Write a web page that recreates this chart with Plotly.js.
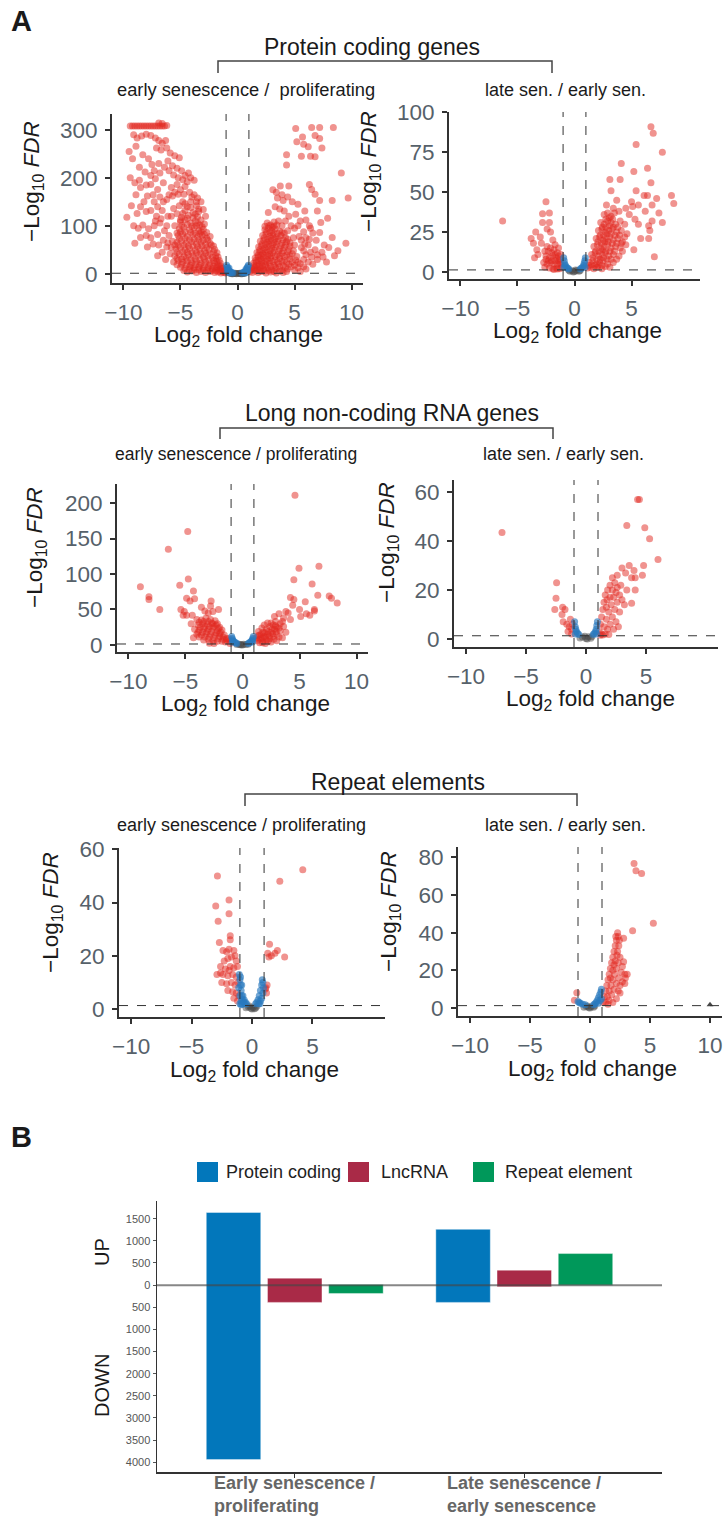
<!DOCTYPE html>
<html><head><meta charset="utf-8">
<script src="https://cdn.plot.ly/plotly-3.0.1.min.js"></script>
<style>html,body{margin:0;padding:0;background:#fff}#chart{width:725px;height:1517px}</style>
</head><body><div id="chart"></div>
<script>
// ---------------- DATA ----------------
const FC_CUT = 1;        // |log2 fold change| threshold
const FDR_CUT = 1.3;     // -log10(0.05)

// Panel 1: protein coding, early senescence / proliferating
const pcEarlyRed = [
 [-9.4,308],[-9.2,308],[-9.0,308],[-8.8,308],[-8.6,308],[-8.4,308],[-8.2,308],[-8.0,308],[-7.8,308],[-7.6,308],[-7.4,308],[-7.2,308],[-7.0,308],[-6.8,308],[-6.6,308],[-6.4,308],[-6.9,314],[-6.6,313],[-6.2,309],
 [-9.1,290],[-8.8,283],[-8.4,287],[-8.0,291],[-7.6,288],[-7.2,283],[-6.9,278],[-6.6,272],[-6.3,278],[-7.1,262],[-6.7,258],[-6.2,262],[-5.9,252],[-5.5,246],[-5.1,242],[-8.9,266],[-8.3,248],[-7.8,240],[-7.5,228],[-8.6,222],[-8.1,212],[-7.6,205],[-7.2,198],[-6.8,210],[-6.4,222],[-6.0,215],[-5.6,206],[-5.2,200],[-4.8,196],[-4.4,192],[-4.1,200],[-3.8,195],[-4.6,182],[-5.3,186],[-5.8,180],[-6.5,190],[-7.0,176],[-7.6,186],[-8.5,180],[-8.9,165],[-9.3,142],[-9.7,118],[-8.8,126],[-8.2,150],[-7.9,162],[-7.3,150],[-6.8,160],[-6.2,155],[-5.7,162],[-5.2,166],[-4.7,166],[-4.2,170],[-3.8,165],[-3.5,158],[-3.2,150],[-7.6,132],[-7.1,120],[-6.6,132],[-6.1,120],[-5.6,136],[-5.1,142],[-4.6,146],[-4.1,150],[-3.6,142],[-3.0,134],[-2.8,120],[-8.3,102],[-7.8,94],[-7.3,100],[-6.8,106],[-9.0,64],[-8.5,76],[-7.9,56],[-7.4,62],[-7.0,82],[-6.4,90],[-6.0,80],[-5.5,100],[-5.0,112],[-6.6,45],[-6.2,56],[-5.7,68],[-5.3,85],[-7.0,38],[-6.3,30],[-5.9,42],
 [-9.5,255],[-9.2,240],[-9.4,200],[-9.0,190],[-8.6,195],[-8.0,185],[-7.3,215],[-6.9,230],[-6.1,235],[-5.7,225],[-5.3,220],[-4.9,215],[-4.6,205],[-4.3,210],[-5.0,175],[-5.5,170],[-6.0,165],[-6.5,150],[-7.0,140],[-7.4,165],[-8.0,130],[-8.5,140],[-9.1,100],[-8.7,95],[-8.0,80],[-7.6,75],[-7.2,110],[-6.7,115],[-6.2,100],[-5.8,120],[-5.3,125],[-4.8,150],[-4.4,140],[-4.0,160],[-3.6,150],[-3.4,135],[-6.9,60],[-6.5,70],[-6.1,65],[-5.8,55],[-5.5,60],
 [-4.8,126],[-4.3,122],[-3.9,128],[-3.5,119],[-3.2,112],[-5.0,108],[-4.6,112],[-4.1,106],[-3.7,110],[-3.3,102],[-2.9,104],[-5.1,94],[-4.7,97],[-4.2,92],[-3.8,96],[-3.4,90],[-3.0,93],[-2.7,86],[-5.2,80],[-4.8,83],[-4.4,78],[-3.9,82],[-3.5,77],[-3.1,80],[-2.7,74],[-2.4,78],[-5.3,66],[-4.9,69],[-4.5,64],[-4.0,67],[-3.6,63],[-3.2,66],[-2.8,61],[-2.4,64],[-2.1,58],[-5.4,52],[-5.0,55],[-4.6,50],[-4.2,53],[-3.7,49],[-3.3,52],[-2.9,48],[-2.5,51],[-2.1,46],[-1.8,44],[-5.5,38],[-5.1,41],[-4.7,36],[-4.3,40],[-3.9,37],[-3.4,39],[-3.0,35],[-2.6,38],[-2.2,34],[-1.9,32],[-1.6,28],[-5.6,25],[-5.2,28],[-4.8,24],[-4.4,27],[-4.0,23],[-3.6,26],[-3.2,22],[-2.8,25],[-2.4,21],[-2.0,22],[-1.7,19],[-1.45,16],[-5.0,14],[-4.6,11],[-4.2,15],[-3.8,12],[-3.4,14],[-3.0,11],[-2.6,13],[-2.2,10],[-1.9,12],[-1.6,9],[-1.35,10],[-1.15,7],[-4.4,4],[-4.0,6],[-3.6,3],[-3.2,5],[-2.8,3],[-2.4,5],[-2.0,3],[-1.7,4],[-1.45,2],[-1.2,3],[-1.05,2],
 [-4.6,132],[-4.1,138],[-3.7,124],[-3.4,130],[-4.9,118],[-4.4,116],[-3.9,117],[-3.5,106],[-3.1,98],[-4.9,101],[-4.4,103],[-4.0,99],[-3.6,100],[-3.2,88],[-2.9,82],[-5.0,87],[-4.6,88],[-4.1,86],[-3.7,85],[-3.3,84],[-2.6,70],[-5.1,73],[-4.6,74],[-4.2,71],[-3.8,72],[-3.4,71],[-3.0,70],[-2.3,60],[-5.2,59],[-4.7,60],[-4.3,58],[-3.9,58],[-3.5,57],[-3.1,58],[-2.7,55],[-2.0,51],[-5.3,45],[-4.8,46],[-4.4,45],[-4.0,44],[-3.6,44],[-3.2,43],[-2.8,43],[-2.4,42],[-1.9,38],[-1.7,35],[-5.3,32],[-4.9,31],[-4.5,33],[-4.1,30],[-3.7,31],[-3.3,30],[-2.9,31],[-2.5,29],[-2.1,28],[-1.8,26],[-1.5,22],[-5.3,19],[-4.9,20],[-4.5,19],[-4.1,18],[-3.7,19],[-3.3,18],[-2.9,18],[-2.5,17],[-2.1,16],[-1.8,15],[-1.5,13],[-1.25,12],[-4.7,7],[-4.2,9],[-3.8,8],[-3.4,9],[-3.0,7],[-2.6,8],[-2.2,7],[-1.9,7],[-1.6,6],[-1.35,5],[-1.1,4.5],
 [5.1,303],[6.5,305],[7.2,305],[8.4,305],[6.8,288],[5.7,285],[5.2,275],[5.8,270],[6.2,265],[7.2,282],[7.4,262],[6.4,245],[6.8,244],[5.6,245],[4.3,248],[4.3,227],[9.1,210],[3.75,183],[4.5,183],[6.3,186],[6.5,176],[6.8,166],[7.2,153],[8.3,153],[9.7,158],[3.5,158],[4.0,153],[4.8,150],[5.3,145],[4.1,131],[5.1,124],[5.9,131],[7.0,131],[7.9,116],[7.3,107],[6.3,100],[5.8,88],[7.2,86],[8.3,76],[9.5,64],[5.8,48],[4.6,65],[4.1,85],[3.2,99],[2.4,99],[2.7,128],[3.1,175],[3.4,170],[3.9,165],[4.4,160],[3.3,140],[3.7,135],[4.5,120],[5.5,110],[6.0,112],[6.6,85],[6.9,70],[7.6,60],[8.0,55],[8.8,48],[6.2,60],[6.8,50],[7.4,45],[5.0,95],[5.4,78],[4.7,100],[3.6,110],[4.2,110],
 [5.6,70],[6.0,75],[6.4,95],[5.3,100],[5.0,60],[5.6,55],[6.0,40],[6.5,35],[7.0,30],[5.8,30],[4.9,75],[4.4,90],[3.9,100],[5.8,15],[6.2,25],[6.6,20],[7.0,40],[7.5,35],[6.0,10],[5.5,5],[6.4,45],[7.8,25],[8.5,38],[5.9,62],[6.3,72],
 [2.6,106],[2.9,102],[3.2,108],[2.4,92],[2.7,95],[3.0,90],[3.3,94],[3.7,89],[2.2,80],[2.5,83],[2.8,78],[3.1,81],[3.4,77],[3.8,80],[4.2,76],[2.0,68],[2.3,70],[2.6,66],[2.9,69],[3.2,65],[3.5,68],[3.9,64],[4.3,67],[1.85,56],[2.1,58],[2.4,54],[2.7,57],[3.0,53],[3.3,56],[3.7,52],[4.1,55],[4.5,51],[1.7,44],[1.95,46],[2.2,42],[2.5,45],[2.8,41],[3.1,44],[3.5,40],[3.9,43],[4.3,39],[4.8,42],[1.55,33],[1.8,35],[2.05,31],[2.3,34],[2.6,30],[2.9,33],[3.3,29],[3.7,32],[4.1,28],[4.6,31],[5.1,29],[1.4,22],[1.65,24],[1.9,20],[2.15,23],[2.45,19],[2.8,22],[3.2,18],[3.6,21],[4.0,17],[4.5,20],[5.0,18],[5.5,21],[1.25,12],[1.5,14],[1.75,10],[2.0,13],[2.3,9],[2.65,12],[3.0,8],[3.4,11],[3.9,7],[4.4,10],[5.0,8],[1.1,5],[1.3,3],[1.55,6],[1.8,3],[2.1,5],[2.5,2],[2.9,4],[3.4,2],[4.0,3],
 [2.75,100],[3.05,97],[3.45,102],[2.55,88],[2.85,86],[3.15,85],[3.5,84],[3.9,86],[2.35,75],[2.65,72],[2.95,74],[3.25,72],[3.6,73],[4.0,71],[4.4,72],[2.15,62],[2.45,61],[2.75,62],[3.05,60],[3.4,61],[3.8,59],[4.2,60],[4.6,58],[1.95,50],[2.25,49],[2.55,50],[2.85,48],[3.2,49],[3.6,47],[4.0,48],[4.4,46],[4.9,48],[1.8,39],[2.05,38],[2.35,39],[2.65,37],[2.95,38],[3.3,36],[3.7,37],[4.1,36],[4.6,37],[5.2,36],[1.6,28],[1.85,28],[2.15,27],[2.45,26],[2.75,27],[3.1,26],[3.5,25],[3.9,26],[4.3,24],[4.8,25],[5.3,24],[1.4,17],[1.65,17],[1.9,16],[2.2,17],[2.5,15],[2.9,16],[3.3,14],[3.7,15],[4.2,14],[4.7,15],[5.3,13],[1.2,8],[1.45,9],[1.7,7],[2.0,8],[2.35,6],[2.75,7],[3.2,5],[3.7,6],[4.3,5]
];
const pcEarlyBlue = [[-0.95,18],[-0.9,14],[-0.85,11],[-0.8,8],[-0.75,12],[-0.7,6],[-0.6,4],[-0.5,3],[-0.4,2],[-0.9,6],[-0.8,3],[-0.65,2],[0.4,2],[0.5,3],[0.6,4],[0.7,6],[0.75,10],[0.8,8],[0.85,12],[0.9,15],[0.95,18],[0.9,6],[0.8,3],[0.65,2]];
const pcEarlyGrey = [[-0.5,0.5],[-0.3,0.8],[-0.1,0.3],[0.1,0.6],[0.3,0.4],[0.5,1.0],[-0.2,1.1],[0.2,1.2],[0,0.9],[-0.4,0.2],[0.4,0.1],[-0.6,0.9],[0.6,0.7]];

// Panel 2: protein coding, late sen. / early sen.
const pcLateRed = [
 [-6.3,32],[-2.5,44],[-2.8,36.5],[-2.2,37],[-2.8,31],[-2.2,31],[-3.4,25],[-3.8,21],[-2.9,18],[-2.1,25],[-3.3,14],[-3.2,11],[-2.6,13],[-3.6,18],[-3.0,22],[-2.4,27],[-1.9,20],[-3.5,9],
 [-2.4,16],[-2.1,15],[-1.8,14],[-1.5,12],[-2.5,10],[-2.2,9],[-1.9,10],[-1.6,9],[-1.3,8],[-2.7,6],[-2.4,5],[-2.1,6],[-1.8,5],[-1.5,5],[-1.2,5],[-2.2,2.5],[-1.9,2],[-1.6,2.5],[-1.3,2],[-1.1,3],[-2.0,12],[-1.7,17],[-1.4,15],[-1.2,11],[-2.6,3],
 [-2.3,13],[-2.0,7],[-1.7,7],[-1.4,7],[-2.3,7],[-1.7,11],[-1.4,10],[-2.5,8],[-1.25,6],[-1.5,1.8],[-1.8,1.5],
 [6.7,91],[6.9,87],[5.4,80],[7.7,75],[4.1,68],[6.4,65],[5.2,63],[3.1,58],[4.0,58],[6.7,56],[5.4,51],[3.2,51],[8.5,48],[6.1,48],[6.4,48],[7.2,46],[8.7,43],[3.7,45],[5.0,44],[5.1,41],[6.8,42],[5.6,42],[6.2,38],[7.4,37],[6.8,32],[7.7,31],[5.6,30],[6.5,29],[6.6,26],[5.8,21],[6.5,21],[5.2,14],[7.0,9.5],[4.5,40],[4.8,36],[3.9,38],[2.8,42],[3.4,40],[5.3,33],[4.4,30],
 [2.6,36],[2.9,37],[3.2,35],[3.5,37],[2.3,31],[2.6,30],[2.9,32],[3.2,31],[3.6,30],[4.0,32],[2.1,26],[2.4,27],[2.7,25],[3.0,26],[3.3,27],[3.7,25],[4.1,26],[4.6,24],[1.9,21],[2.2,22],[2.5,20],[2.8,21],[3.1,22],[3.4,20],[3.8,21],[4.2,19],[1.7,16],[2.0,17],[2.3,15],[2.6,16],[2.9,17],[3.2,15],[3.6,16],[4.0,15],[4.5,17],[1.5,11],[1.8,12],[2.1,10],[2.4,11],[2.7,12],[3.0,10],[3.4,11],[3.9,10],[1.3,6],[1.6,7],[1.9,5],[2.2,6],[2.5,7],[2.9,5],[3.4,6],[1.15,2.5],[1.4,3],[1.7,2],[2.0,3],[2.4,2],
 [2.75,33],[3.05,34],[3.35,33],[2.45,28],[2.75,28],[3.05,29],[3.4,28],[3.8,28],[2.25,23],[2.55,23],[2.85,24],[3.2,24],[3.55,23],[3.95,23],[4.4,22],[2.05,19],[2.35,18],[2.65,19],[2.95,19],[3.3,18],[3.7,18],[4.1,18],[1.85,13],[2.15,13],[2.45,14],[2.75,13],[3.1,13],[3.5,13],[4.2,13],[1.6,9],[1.95,8],[2.25,8],[2.55,9],[2.85,8],[3.2,8],[3.7,8],[1.25,4],[1.5,4.5],[1.8,4],[2.1,4],[2.4,4],[2.7,3.5],[3.1,3]
];
const pcLateBlue = [[-0.95,9],[-0.9,7],[-0.85,5],[-0.8,4],[-0.7,3],[-0.6,2.3],[-0.5,1.8],[-0.92,3],[0.5,1.8],[0.6,2.3],[0.7,3],[0.8,4],[0.85,5.5],[0.9,7],[0.95,9],[0.92,3]];
const pcLateGrey = [[-0.4,0.5],[-0.2,0.8],[0,0.3],[0.2,0.9],[0.4,0.4],[-0.5,1.1],[0.5,1.0],[0.1,1.2],[-0.1,0]];

// Panel 3: lncRNA, early senescence / proliferating
const lncEarlyRed = [
 [-8.95,82],[-8.2,68],[-8.2,64],[-7.25,50],[-6.5,135],[-4.8,160],[-4.75,93],[-5.5,84],[-4.3,76],[-4.9,66],[-4.6,62],[-4.2,65],[-5.4,50],[-5.1,47],[-4.9,42],[-5.2,42],[-4.4,42],[-2.75,62],[-3.6,53],[-2.8,55],[-2.1,50],[-3.3,48],[-3.0,45],[-2.6,47],
 [-4.0,36],[-3.6,35],[-3.2,38],[-2.8,36],[-2.4,34],[-3.9,28],[-3.5,30],[-3.1,29],[-2.7,31],[-2.3,28],[-2.0,25],[-4.2,22],[-3.8,21],[-3.4,23],[-3.0,22],[-2.6,24],[-2.2,20],[-1.9,18],[-4.0,15],[-3.6,14],[-3.2,16],[-2.8,15],[-2.4,14],[-2.0,12],[-1.7,11],[-1.4,9],[-3.4,7],[-3.0,8],[-2.6,6],[-2.2,5],[-1.8,5],[-1.5,4],[-1.2,5],[-1.1,2],[-4.5,30],[-4.3,10],[-2.9,2.5],[-2.5,2],
 [-3.8,32],[-3.4,33],[-3.0,33],[-2.6,30],[-2.2,30],[-3.7,25],[-3.3,26],[-2.9,26],[-2.5,26],[-2.1,23],[-1.8,21],[-3.9,18],[-3.5,18],[-3.1,19],[-2.7,19],[-2.3,17],[-2.0,16],[-1.6,14],[-3.8,11],[-3.3,11],[-2.9,11],[-2.5,10],[-2.1,9],[-1.7,8],[-1.4,7],[-1.2,9],
 [4.6,211],[4.95,108],[6.7,111],[4.5,92],[6.1,86],[4.2,67],[4.5,64],[5.5,61],[6.6,70],[7.6,69],[7.8,66],[8.3,59],[6.3,50],[5.0,50],[6.3,48],[5.6,44],[5.1,40],[3.8,47],[4.0,45],[3.2,44],[2.8,40],[4.4,56],[5.9,42],[3.6,38],[4.2,36],
 [1.3,6],[1.6,9],[1.9,12],[2.2,15],[2.5,18],[2.8,22],[1.5,3],[1.8,5],[2.1,7],[2.4,9],[2.7,12],[3.0,15],[3.3,20],[1.2,10],[1.5,14],[1.8,18],[2.1,22],[2.4,26],[2.7,28],[3.0,25],[3.3,30],[3.6,26],[2.0,2],[2.5,4],[3.0,6],[3.5,10],[3.8,18],[2.2,31],[1.7,24],[1.4,19],[2.9,33],[3.5,33],
 [1.45,8],[1.75,10],[2.05,11],[2.35,13],[2.65,16],[2.95,19],[1.35,13],[1.65,15],[1.95,17],[2.25,19],[2.6,22],[2.9,27],[3.2,24],[1.75,3],[2.25,5],[2.75,8],[3.2,11],[1.9,28],[2.5,31]
];
const lncEarlyBlue = [[-0.95,12],[-0.9,9],[-0.85,7],[-0.8,5],[-0.7,4],[-0.6,3],[-0.5,2],[-0.9,4],[0.5,2],[0.6,3],[0.7,4],[0.8,5.5],[0.85,7],[0.9,9],[0.95,12],[0.9,4]];
const lncEarlyGrey = [[-0.5,0.5],[-0.3,1.0],[-0.1,0.3],[0.1,0.8],[0.3,0.5],[0.5,1.1],[0,0],[-0.2,0.1]];

// Panel 4: lncRNA, late sen. / early sen.
const lncLateRed = [
 [-7.0,43.5],[-2.45,23],[-2.5,16.6],[-1.95,13],[-2.6,12],[-1.75,12],[-2.0,10],[-1.3,8],[-1.6,6],[-1.4,5],[-1.2,4],[-1.5,3],[-1.2,2],[-1.9,7],[-1.1,6],
 [4.3,57],[4.45,57],[3.4,46.4],[4.9,45.5],[5.3,41],[6.0,32.5],[3.0,29],[3.6,30],[4.8,30],[4.0,28],[2.2,25],[2.6,26],[3.3,27],[3.8,25],[4.1,25],[4.7,26],[4.1,20],[3.2,14],[3.8,14.6],[2.5,7],[3.4,20],[2.9,22],
 [1.1,3],[1.2,6],[1.3,9],[1.4,12],[1.5,15],[1.6,18],[1.3,2],[1.5,5],[1.7,8],[1.9,11],[2.1,14],[2.3,17],[1.6,2],[1.8,4],[2.0,6],[2.2,9],[2.4,12],[2.6,15],[2.8,18],[1.8,20],[2.0,22],[2.2,20],[2.4,23],[2.6,21],[2.0,17],[1.7,13],[2.8,11],[3.0,16],[2.3,4],[2.7,5],[1.9,1.8],[1.4,1.6],[1.2,1.5],[2.5,19],[1.75,16]
];
const lncLateBlue = [[-0.95,7],[-0.9,5],[-0.85,4],[-0.8,3],[-0.7,2.3],[-0.6,1.8],[-0.9,2],[0.6,1.8],[0.7,2.3],[0.8,3],[0.85,4],[0.9,5.5],[0.95,7],[0.9,2]];
const lncLateGrey = [[-0.5,0.4],[-0.3,0.8],[0,0.2],[0.2,0.9],[0.4,0.3],[0.5,1.0],[-0.1,1.1],[0.1,0]];

// Panel 5: repeat elements, early senescence / proliferating
const repEarlyRed = [
 [-2.86,50],[-1.9,41],[-3.0,38.7],[-1.9,35.8],[-2.8,33],[-1.8,27.5],[-1.8,26],[-2.7,25],[-2.4,22],[-2.1,21.5],[-1.9,22.5],[-1.5,22],[-1.4,20],[-2.3,18],[-2.0,19],[-1.7,19.5],[-1.3,18],[-2.6,16],[-2.2,15],[-1.8,16],[-1.5,15.5],[-1.2,16],[-2.4,13],[-2.0,12.5],[-1.6,13],[-1.3,12],[-2.5,10],[-2.1,9.5],[-1.7,10],[-1.4,9],[-1.15,10],[-2.0,7],[-1.6,6.5],[-1.3,6],[-1.1,5],[-1.5,4],[-1.2,3],[-2.6,13.5],[-2.9,13],[-1.9,14.5],
 [4.2,52.3],[2.3,48],[1.45,24.3],[1.3,21],[1.9,21],[1.6,20],[2.7,19.5],[1.4,19.5],[2.1,22],[1.15,8],[1.25,9],[1.2,6],[1.1,7.5]
];
const repEarlyBlue = [[-1.05,13],[-1.0,11],[-0.95,9],[-0.9,7],[-0.85,5],[-0.8,3.5],[-0.7,2.5],[-0.6,2],[-1.0,5],[-0.9,3],[-1.1,8],[-0.95,12],[-0.85,9],[-0.75,5],[-0.65,3.5],[-0.55,2.5],[-0.45,2],[-1.0,2],[-0.9,1.6],[-0.8,1.8],[0.3,2],[0.4,2.5],[0.5,3.5],[0.6,5],[0.7,7],[0.8,9],[0.85,11],[0.9,10],[0.55,2],[0.7,3],[0.8,4],[0.9,6],[0.95,8],[0.65,2]];
const repEarlyGrey = [[-0.5,0.5],[-0.3,0.8],[-0.1,0.3],[0.1,0.7],[0.3,0.4],[0.4,1.0],[-0.2,1.1],[0,0],[0.2,0.1]];

// Panel 6: repeat elements, late sen. / early sen.
const repLateRed = [
 [3.67,76.7],[3.83,72.8],[4.3,71.4],[5.28,45],[3.55,41],[2.3,40],[2.35,38],[2.8,37],[2.9,18],[3.1,18],[2.95,16],[2.8,24.5],[-1.1,8.1],[-1.3,4.2],
 [1.1,3],[1.2,6],[1.3,9],[1.4,12],[1.5,15],[1.6,18],[1.7,21],[1.8,24],[1.9,27],[2.0,30],[2.1,33],[2.2,36],[1.3,3],[1.45,6],[1.6,9],[1.75,12],[1.9,15],[2.05,18],[2.2,21],[2.35,24],[2.5,27],[1.6,4],[1.8,7],[2.0,10],[2.2,13],[2.4,16],[2.6,19],[2.7,22],[2.1,25],[2.3,30],[2.4,33],[1.9,20],[2.0,23],[2.5,12],[2.7,14],[2.9,13],[1.5,2],[1.9,3],[2.2,5],[2.5,8],[2.35,9],[1.7,16],[2.25,28],[2.45,36],[2.15,38]
];
const repLateBlue = [[0.3,1.8],[0.4,2.2],[0.5,3],[0.6,4],[0.7,5.5],[0.8,7],[0.9,8.5],[0.95,10],[0.7,2.5],[0.85,4],[0.95,5],[-0.9,3],[-0.8,2.5],[-0.6,2],[-0.4,1.7],[-1.0,3.5]];
const repLateGrey = [[-0.5,0.4],[-0.3,0.8],[-0.1,0.2],[0.1,0.7],[0.3,0.4],[0.4,1.1],[-0.2,1.1],[0,0]];
const repLateMark = [[10,1.8]];

// Panel B: number of differentially expressed features
const groups = ["Early senescence / proliferating", "Late senescence / early senescence"];
const groupLabels = ["Early senescence /<br>proliferating", "Late senescence /<br>early senescence"];
const seriesNames = ["Protein coding", "LncRNA", "Repeat element"];
const upCounts   = [[1640, 1260], [158, 338], [15, 713]];
const downCounts = [[3940, 390], [390, 38], [188, 0]];
const barTicks = [1500, 1000, 500, 0, -500, -1000, -1500, -2000, -2500, -3000, -3500, -4000];

// ---------------- LAYOUT HELPERS ----------------
const W = 725, H = 1517;
const px = x => x / W;
const py = y => 1 - y / H;
const FONT = "Liberation Sans, Arial, Helvetica, sans-serif";
const RED = "#E2271F", BLUE = "#2A7ABE", GREY = "#4a4a4a";
const TICKC = "#56616a", AX = "#333333";
const TICKSIZE = 22.5, TITLESIZE = 22.5;
function ann(x, y, text, font, extra) {
  return Object.assign({xref: "paper", yref: "paper", x: px(x), y: py(y), xanchor: "center", yanchor: "middle",
    showarrow: false, text: text, font: font}, extra || {});
}

const panels = [
  {red: pcEarlyRed, blue: pcEarlyBlue, grey: pcEarlyGrey, yr: [-19, 333], yt: [0,100,200,300], xt: [-10,-5,0,5,10], box: [112,363,114,283], yt_pos: [33,182], xt_pos: [238,336]},
  {red: pcLateRed, blue: pcLateBlue, grey: pcLateGrey, yr: [-4.4, 100.3], yt: [0,25,50,75,100], xt: [-10,-5,0,5], box: [449,700,112,279], yt_pos: [370,172], xt_pos: [577,332]},
  {red: lncEarlyRed, blue: lncEarlyBlue, grey: lncEarlyGrey, yr: [-10, 227], yt: [0,50,100,150,200], xt: [-10,-5,0,5,10], box: [117,368,484,652], yt_pos: [36,548], xt_pos: [245,705]},
  {red: lncLateRed, blue: lncLateBlue, grey: lncLateGrey, yr: [-3.3, 65], yt: [0,20,40,60], xt: [-10,-5,0,5], box: [454,718,480,647], yt_pos: [388,543], xt_pos: [590,700]},
  {red: repEarlyRed, blue: repEarlyBlue, grey: repEarlyGrey, yr: [-3, 60.5], yt: [0,20,40,60], xt: [-10,-5,0,5], box: [119,385,848,1017], yt_pos: [52,913], xt_pos: [254,1071]},
  {red: repLateRed, blue: repLateBlue, grey: repLateGrey, extra: repLateMark, yr: [-4.2, 85.4], yt: [0,20,40,60,80], xt: [-10,-5,0,5,10], box: [458,722,847,1016], yt_pos: [390,912], xt_pos: [592,1070]}
];

const data = [];
const layout = {
  width: W, height: H, margin: {l:0, r:0, t:0, b:0},
  paper_bgcolor: "#fff", plot_bgcolor: "#fff", showlegend: false,
  font: {family: FONT, color: "#1a1a1a"},
  shapes: [], annotations: [],
  barmode: "group", bargap: 0.2, bargroupgap: 0.11
};

panels.forEach((p, i) => {
  const n = i + 1, xa = "x" + n, ya = "y" + n;
  const xk = n === 1 ? "xaxis" : "xaxis" + n, yk = n === 1 ? "yaxis" : "yaxis" + n;
  const mk = (arr, color, op, size, sym) => ({
    type: "scatter", mode: "markers", x: arr.map(d => d[0]), y: arr.map(d => d[1]),
    xaxis: xa, yaxis: ya, hoverinfo: "skip", cliponaxis: true,
    marker: {color: color, opacity: op, size: size || 7, symbol: sym || "circle", line: {width: 0}}
  });
  data.push(mk(p.grey, GREY, 0.5));
  data.push(mk(p.red, RED, 0.5));
  data.push(mk(p.blue, BLUE, 0.65));
  if (p.extra) data.push(mk(p.extra, "#333", 0.9, 6, "triangle-up"));
  const [x0, x1, y0, y1] = p.box;
  layout[xk] = {
    domain: [px(x0), px(x1)], range: [-11, 11], anchor: ya,
    tickvals: p.xt, ticks: "outside", ticklen: 5, tickwidth: 2, tickcolor: AX, ticklabelstandoff: 3,
    showline: true, linecolor: AX, linewidth: 2, showgrid: false, zeroline: false,
    tickfont: {size: TICKSIZE, color: TICKC, family: FONT}, fixedrange: true
  };
  layout[yk] = {
    domain: [py(y1), py(y0)], range: p.yr, anchor: xa,
    tickvals: p.yt, ticks: "outside", ticklen: 5, tickwidth: 2, tickcolor: AX, ticklabelstandoff: 3,
    showline: true, linecolor: AX, linewidth: 2, showgrid: false, zeroline: false,
    tickfont: {size: TICKSIZE, color: TICKC, family: FONT}, fixedrange: true
  };
  [-FC_CUT, FC_CUT].forEach(v => layout.shapes.push({type: "line", xref: xa, yref: ya + " domain", x0: v, x1: v, y0: 0, y1: 1, line: {color: "#333", width: 1, dash: "dash"}}));
  layout.shapes.push({type: "line", xref: xa + " domain", yref: ya, x0: 0, x1: 1, y0: FDR_CUT, y1: FDR_CUT, line: {color: "#333", width: 1, dash: "dash"}});
  layout.annotations.push(ann(p.yt_pos[0], p.yt_pos[1], "\u2212Log<sub>10</sub> <i>FDR</i>", {size: TITLESIZE, color: "#1a1a1a", family: FONT}, {textangle: -90}));
  layout.annotations.push(ann(p.xt_pos[0], p.xt_pos[1], "Log<sub>2</sub> fold change", {size: TITLESIZE, color: "#1a1a1a", family: FONT}));
});

// Section titles, brackets and sub-titles
const sections = [
  {title: "Protein coding genes", tx: 372, ty: 47, bx0: 218, bx1: 552, by: 61, bt: 73,
   subs: [["early senescence /  proliferating", 246, 90, 18.3], ["late sen. / early sen.", 565, 90, 18]]},
  {title: "Long non-coding RNA genes", tx: 392, ty: 413, bx0: 220, bx1: 553, by: 428, bt: 439,
   subs: [["early senescence / proliferating", 236, 454, 17.5], ["late sen. / early sen.", 563, 454, 18]]},
  {title: "Repeat elements", tx: 398, ty: 782, bx0: 245, bx1: 577, by: 794, bt: 806,
   subs: [["early senescence / proliferating", 242, 825, 18], ["late sen. / early sen.", 565, 825, 18]]}
];
sections.forEach(s => {
  layout.annotations.push(ann(s.tx, s.ty, s.title, {size: 23, color: "#1a1a1a", family: FONT}));
  layout.shapes.push({type: "path", xref: "paper", yref: "paper",
    path: `M ${px(s.bx0)},${py(s.bt)} L ${px(s.bx0)},${py(s.by)} L ${px(s.bx1)},${py(s.by)} L ${px(s.bx1)},${py(s.bt)}`,
    line: {color: "#444", width: 1.5}});
  s.subs.forEach(t => layout.annotations.push(ann(t[1], t[2], t[0].replace(/  /g, " &nbsp;"), {size: t[3], color: "#1a1a1a", family: FONT})));
});

// Panel letters
[["A", 21], ["B", 1137]].forEach(l => layout.annotations.push(ann(9, l[1], "<b>" + l[0] + "</b>", {size: 29, color: "#1a1a1a", family: FONT}, {xanchor: "left"})));

// ---------------- PANEL B ----------------
const barColors = ["#0277BB", "#A92A47", "#00985A"];
seriesNames.forEach((name, k) => {
  data.push({type: "bar", name: name, x: groups, y: upCounts[k].map((u, j) => u + downCounts[k][j]),
    base: downCounts[k].map(d => -d), xaxis: "x7", yaxis: "y7", hoverinfo: "skip",
    marker: {color: barColors[k], line: {width: 0.8, color: "rgba(255,255,255,0.5)"}}});
});
layout.xaxis7 = {domain: [px(157), px(662)], range: [-0.6, 1.6], anchor: "y7", type: "category",
  showticklabels: false, ticks: "outside", ticklen: 4, tickwidth: 1.5, tickcolor: AX,
  showline: true, linecolor: AX, linewidth: 1.5, showgrid: false, zeroline: false, fixedrange: true};
layout.yaxis7 = {domain: [py(1472), py(1201)], range: [-4220, 1900], anchor: "x7",
  tickvals: barTicks, ticktext: barTicks.map(v => String(Math.abs(v))),
  ticks: "outside", ticklen: 3, tickwidth: 1, tickcolor: "#555",
  showline: true, linecolor: AX, linewidth: 1.5, showgrid: false, zeroline: false,
  tickfont: {size: 11, color: "#555", family: FONT}, fixedrange: true};
layout.shapes.push({type: "line", xref: "x7 domain", yref: "y7", x0: 0, x1: 1, y0: 0, y1: 0, layer: "above",
  line: {color: "rgba(70,70,70,0.65)", width: 2}});
groups.forEach((g, j) => layout.annotations.push({xref: "x7", yref: "paper", x: g, y: py(1494), yanchor: "middle", xanchor: "center",
  align: "left", showarrow: false, text: "<b>" + groupLabels[j] + "</b>", font: {size: 18, color: "#666", family: FONT}}));
const NARROW = "Liberation Sans Narrow, Arial Narrow, sans-serif";
layout.annotations.push(ann(102, 1252, "UP", {size: 20, color: "#1a1a1a", family: NARROW}, {textangle: -90}));
layout.annotations.push(ann(102, 1386, "DOWN", {size: 20, color: "#1a1a1a", family: NARROW}, {textangle: -90}));
// legend (drawn manually)
const legendPos = [[197, 224], [348, 379], [473, 503]];
seriesNames.forEach((name, k) => {
  const [sx, tx] = legendPos[k];
  layout.shapes.push({type: "rect", xref: "paper", yref: "paper", x0: px(sx), x1: px(sx + 21), y0: py(1182), y1: py(1162),
    fillcolor: barColors[k], line: {width: 0}});
  layout.annotations.push(ann(tx, 1172, name, {size: 18, color: "#222", family: FONT}, {xanchor: "left"}));
});

Plotly.newPlot("chart", data, layout, {staticPlot: true, displayModeBar: false});
</script></body></html>
